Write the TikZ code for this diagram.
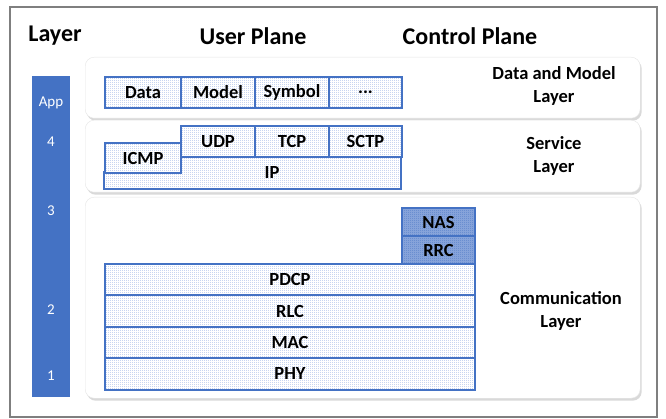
\documentclass[tikz,border=0pt]{standalone}
\usepackage{fontspec}
\setmainfont{Carlito}
\usetikzlibrary{patterns,shadows}

% fine grid of square dots used inside the protocol boxes
\pgfdeclarepatternformonly{griddots}{\pgfpointorigin}{\pgfqpoint{2pt}{2pt}}{\pgfqpoint{2pt}{2pt}}{%
  \pgfpathrectangle{\pgfpointorigin}{\pgfqpoint{1pt}{1pt}}%
  \pgfusepath{fill}}

\definecolor{accent}{HTML}{4472C4}
\definecolor{lightdot}{HTML}{7F9CE0}
\definecolor{darkbg}{HTML}{86A3DA}
\definecolor{framegray}{HTML}{7F7F7F}

\tikzset{
  cell/.style={draw=accent, line width=2pt, pattern=griddots, pattern color=lightdot,
    preaction={fill=white}, anchor=north west, inner sep=0pt,
    font=\fontsize{18.5}{20}\selectfont\bfseries, text=black},
  ctrlcell/.style={cell, pattern color=accent, preaction={fill=darkbg}},
  panel/.style={draw=gray!20, fill=white, rounded corners=9pt, anchor=north west,
    drop shadow={shadow xshift=1.5pt, shadow yshift=-2.5pt, opacity=0.3, fill=gray}},
  heading/.style={font=\fontsize{24}{26}\selectfont\bfseries},
  sidelabel/.style={font=\fontsize{18.5}{23}\selectfont\bfseries, align=center},
  barlabel/.style={font=\fontsize{15}{17}\selectfont, text=white},
}

\begin{document}
\begin{tikzpicture}[x=1pt,y=-1pt]
\useasboundingbox (0,0) rectangle (666,419);

% outer frame
\draw[framegray, line width=1.2pt] (10,7) rectangle (657,417);

% headings
\node[heading] (hlayer) at (55,36) {Layer};
\node[heading] (huser) at (253,36) {User Plane};
\node[heading] (hctrl) at (470,36) {Control Plane};

% layer number bar
\node[fill=accent, anchor=north west, minimum width=38pt, minimum height=321pt, inner sep=0pt] (bar) at (32,76) {};
\node[barlabel] (lapp) at (51,103) {App};
\node[barlabel] (l4) at (51,142) {4};
\node[barlabel] (l3) at (51,211) {3};
\node[barlabel] (l2) at (51,310) {2};
\node[barlabel] (l1) at (51,376) {1};

% rounded layer panels
\node[panel, minimum width=555pt, minimum height=61pt] (pdm) at (85,57) {};
\node[panel, minimum width=555pt, minimum height=72pt] (psvc) at (85,120) {};
\node[panel, minimum width=555pt, minimum height=201pt] (pcom) at (85,197) {};

% data and model layer
\node[cell, minimum width=76pt, minimum height=31pt] (data) at (104,76) {Data};
\node[cell, minimum width=74pt, minimum height=31pt] (model) at (180,76) {Model};
\node[cell, minimum width=74pt, minimum height=31pt] (symbol) at (254,76) {Symbol};
\node[cell, minimum width=73pt, minimum height=31pt] (more) at (328,76) {...};
\node[sidelabel] (ldm) at (554,86) {Data and Model\\Layer};

% service layer
\draw[draw=accent, line width=2pt, pattern=griddots, pattern color=lightdot, preaction={fill=white}]
  (104,172) -- (180,172) -- (180,156) -- (401,156) -- (401,189) -- (104,189) -- cycle;
\node[font=\fontsize{18.5}{20}\selectfont\bfseries] (ip) at (272,173) {IP};
\node[cell, minimum width=76pt, minimum height=30pt] (icmp) at (104,142) {ICMP};
\node[cell, minimum width=74pt, minimum height=31pt] (udp) at (180,125) {UDP};
\node[cell, minimum width=74pt, minimum height=31pt] (tcp) at (254,125) {TCP};
\node[cell, minimum width=73pt, minimum height=31pt] (sctp) at (328,125) {SCTP};
\node[sidelabel] (lsvc) at (554,156) {Service\\Layer};

% communication layer
\node[ctrlcell, minimum width=73pt, minimum height=28pt] (nas) at (401,207) {NAS};
\node[ctrlcell, minimum width=73pt, minimum height=28pt] (rrc) at (401,235) {RRC};
\node[cell, minimum width=370pt, minimum height=31pt] (pdcp) at (104,263) {PDCP};
\node[cell, minimum width=370pt, minimum height=32pt] (rlc) at (104,294) {RLC};
\node[cell, minimum width=370pt, minimum height=31pt] (mac) at (104,326) {MAC};
\node[cell, minimum width=370pt, minimum height=32pt] (phy) at (104,357) {PHY};
\node[sidelabel] (lcom) at (561,311) {Communication\\Layer};
\end{tikzpicture}
\end{document}
